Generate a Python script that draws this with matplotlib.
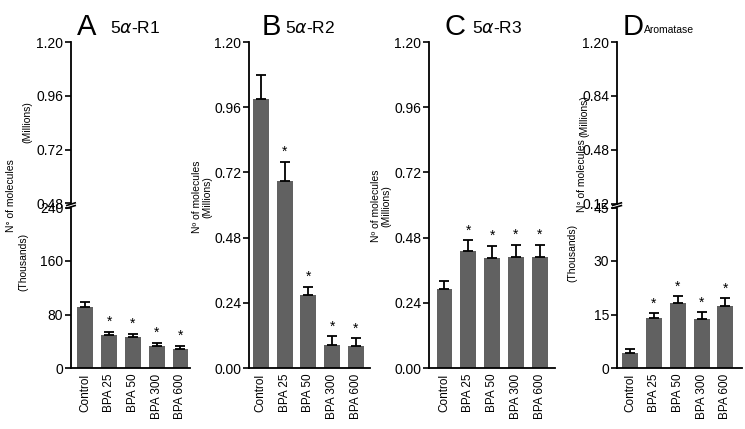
import numpy as np
import matplotlib
matplotlib.use('Agg')
import matplotlib.pyplot as plt

plt.rcParams['font.family'] = ['Liberation Sans', 'DejaVu Sans']
plt.rcParams['mathtext.fontset'] = 'dejavusans'

# data
categories = ['Control', 'BPA 25', 'BPA 50', 'BPA 300', 'BPA 600']
significant = [False, True, True, True, True]

r1_thousands = [91, 49, 46, 33, 28]
r1_err = [7, 5.5, 5, 5, 5]

r2_millions = [0.99, 0.69, 0.27, 0.086, 0.08]
r2_err = [0.09, 0.07, 0.03, 0.031, 0.03]

r3_millions = [0.29, 0.43, 0.405, 0.41, 0.407]
r3_err = [0.03, 0.04, 0.044, 0.044, 0.046]

arom_thousands = [4.2, 14.0, 18.3, 13.7, 17.5]
arom_err = [1.1, 1.4, 1.8, 1.9, 2.0]

mill_ticks = [0.00, 0.24, 0.48, 0.72, 0.96, 1.20]
r1_upper_ticks = [0.48, 0.72, 0.96, 1.20]
r1_lower_ticks = [0, 80, 160, 240]
arom_upper_ticks = [0.12, 0.48, 0.84, 1.20]
arom_lower_ticks = [0, 15, 30, 45]

W, H = 745, 429
fig = plt.figure(figsize=(W / 100, H / 100), dpi=100)

BAR = '#616161'
TOP, BOT, BRK_HI, BRK_LO = 42, 368, 203.5, 207.5


def px_axes(x0, x1, ytop, ybot):
    return fig.add_axes([x0 / W, 1 - ybot / H, (x1 - x0) / W, (ybot - ytop) / H])


def style(ax, ticks, fmt):
    for s in ['top', 'right']:
        ax.spines[s].set_visible(False)
    for s in ['left', 'bottom']:
        ax.spines[s].set_linewidth(1.3)
    ax.set_yticks(ticks)
    ax.set_yticklabels([fmt.format(t) for t in ticks])
    ax.tick_params(axis='y', direction='out', length=4, width=1.2, pad=1.5, labelsize=10)
    ax.set_ylim(ticks[0], ticks[-1])


def draw_bars(ax, vals, errs, xlim):
    x = np.arange(len(vals))
    ax.bar(x, vals, width=0.67, color=BAR, zorder=2)
    ax.errorbar(x, vals, yerr=[np.zeros(len(errs)), errs], fmt='none', ecolor='black',
                elinewidth=1.3, capsize=3.3, capthick=1.3, zorder=3)
    for xi, v, e, s in zip(x, vals, errs, significant):
        if s:
            ax.annotate('*', (xi, v + e), xytext=(0, 2), textcoords='offset points',
                        ha='center', va='bottom', fontsize=10)
    ax.set_xlim(*xlim)
    ax.set_xticks(x)
    ax.set_xticklabels(categories, rotation=90, fontsize=8.5)
    ax.tick_params(axis='x', length=0, pad=4)


def upper_part(x0, x1, ticks):
    ax = px_axes(x0, x1, TOP, BRK_HI)
    style(ax, ticks, '{:.2f}')
    ax.spines['bottom'].set_visible(False)
    ax.set_xticks([])
    ax.plot([-0.035, 0.035], [-0.012, 0.004], color='black', lw=1.2,
            transform=ax.transAxes, clip_on=False)
    return ax


def lower_break(ax):
    ax.plot([-0.035, 0.035], [0.996, 1.012], color='black', lw=1.2,
            transform=ax.transAxes, clip_on=False)


# panel A
upper_part(71, 190, r1_upper_ticks)
axA = px_axes(71, 190, BRK_LO, BOT)
style(axA, r1_lower_ticks, '{:d}')
draw_bars(axA, r1_thousands, r1_err, (-0.6, 4.4))
lower_break(axA)

# panel B
axB = px_axes(249, 370, TOP, BOT)
style(axB, mill_ticks, '{:.2f}')
draw_bars(axB, r2_millions, r2_err, (-0.5, 4.6))

# panel C
axC = px_axes(429, 555, TOP, BOT)
style(axC, mill_ticks, '{:.2f}')
draw_bars(axC, r3_millions, r3_err, (-0.65, 4.64))

# panel D
upper_part(617, 742, arom_upper_ticks)
axD = px_axes(617, 742, BRK_LO, BOT)
style(axD, arom_lower_ticks, '{:d}')
draw_bars(axD, arom_thousands, arom_err, (-0.55, 4.7))
lower_break(axD)


def ftext(x, y, s, **kw):
    fig.text(x / W, 1 - y / H, s, **kw)


# panel letters and titles
for lx, tx, letter, title, tsize in [(77, 110, 'A', r'5$\alpha$-R1', 12.5),
                                     (262, 285, 'B', r'5$\alpha$-R2', 12.5),
                                     (445, 472, 'C', r'5$\alpha$-R3', 12.5),
                                     (623, 644, 'D', 'Aromatase', 7.5)]:
    ftext(lx, 35, letter, fontsize=21, ha='left', va='baseline')
    ftext(tx, 33, title, fontsize=tsize, ha='left', va='baseline')

# y axis labels
lab = dict(rotation=90, ha='center', va='center', fontsize=7.5)
ftext(11, 196, 'N° of molecules', **lab)
ftext(23, 262, '(Thousands)', **lab)
ftext(27, 122, '(Millions)', **lab)

ftext(202, 197, 'Nº of molecules\n(Millions)', multialignment='center', linespacing=1.0, **lab)
ftext(381, 206, 'Nº of molecules\n(Millions)', multialignment='center', linespacing=1.0, **lab)

ftext(584, 116, '(Millions)', **lab)
ftext(582, 176, 'N° of molecules', **lab)
ftext(572, 253, '(Thousands)', **lab)

fig.savefig('out.png', dpi=100)
